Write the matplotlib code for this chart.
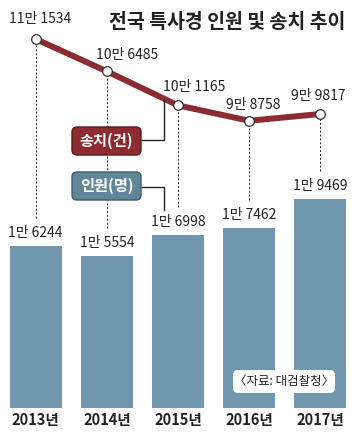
import matplotlib
matplotlib.use("Agg")
import matplotlib.pyplot as plt
from matplotlib.patches import FancyBboxPatch
from matplotlib.lines import Line2D
from matplotlib.transforms import IdentityTransform

# ---- data ----
years = ["2013년", "2014년", "2015년", "2016년", "2017년"]
personnel = [16244, 15554, 16998, 17462, 19469]          # 인원(명)
personnel_labels = ["1만 6244", "1만 5554", "1만 6998", "1만 7462", "1만 9469"]
referrals = [111534, 106485, 101165, 98758, 99817]       # 송치(건)
referral_labels = ["11만 1534", "10만 6485", "10만 1165", "9만 8758", "9만 9817"]
title = "전국 특사경 인원 및 송치 추이"
source = "〈자료: 대검찰청〉"
legend_referral = "송치(건)"
legend_personnel = "인원(명)"

# ---- style ----
W, H, DPI = 356, 434, 100
NUM_FONT = ["Noto Sans CJK KR", "DejaVu Sans"]
KR_FONT = ["Noto Sans CJK KR", "DejaVu Sans"]
BAR_C = "#6F98AE"
LINE_C = "#8B2C33"
RED_BOX = "#8E2B30"
BLUE_BOX = "#5F8799"

fig = plt.figure(figsize=(W / DPI, H / DPI), dpi=DPI)
fig.patch.set_facecolor("white")

def D(x, y):
    """pixel (from top-left) -> display coords"""
    return (x, H - y)

ax = fig.add_axes([0, 26 / H, 1, 408 / H])
ax.set_xlim(-0.5, 4.5)
ax.set_ylim(5114, 33136)
ax.axis("off")
xs = list(range(len(years)))
ax.bar(xs, personnel, width=0.73, color=BAR_C, zorder=2)

for x, v, lab in zip(xs, personnel, personnel_labels):
    ax.annotate(lab, (x, v), xytext=(0, 9.4), textcoords="offset points",
                ha="center", va="center", fontsize=10, family=NUM_FONT,
                color="#222222", zorder=5)
    ax.text(x, -0.03, years[x], transform=ax.get_xaxis_transform(),
            ha="center", va="center", fontsize=10.5, fontweight="bold",
            family=NUM_FONT, color="#222222", clip_on=False)

ax2 = ax.twinx()
ax2.set_ylim(53878, 117628)
ax2.axis("off")
ax2.plot(xs, referrals, color=LINE_C, lw=4.3, zorder=3, solid_capstyle="butt")
ax2.scatter(xs, referrals, s=48, facecolor="white", edgecolor="#333333",
            linewidths=0.9, zorder=4)

label_off_px = [(4, 20), (20, 16), (16, 18), (4, 16), (-2, 18)]
for x, v, lab, (dx, dy) in zip(xs, referrals, referral_labels, label_off_px):
    ax2.annotate(lab, (x, v), xytext=(dx * 0.72, dy * 0.72),
                 textcoords="offset points", ha="center", va="center",
                 fontsize=10, family=NUM_FONT, color="#222222")

# dashed guide lines from each point down to above bar label
fig.canvas.draw()
inv = ax.transData.inverted()
for x, v, b in zip(xs, referrals, personnel):
    top_disp = ax2.transData.transform((x, v))[1]
    bot_disp = ax.transData.transform((x, b))[1] + 28
    yt = inv.transform((0, top_disp))[1]
    yb = inv.transform((0, bot_disp))[1]
    ax.plot([x, x], [yb, yt], color="#222222", lw=0.7,
            linestyle=(0, (2, 2)), zorder=1)

# legend boxes
def legend_box(y_top, color, edge, text):
    p = FancyBboxPatch(D(72, y_top + 28), 69, 28,
                       boxstyle="round,pad=0,rounding_size=5",
                       facecolor=color, edgecolor=edge, lw=1.0,
                       transform=IdentityTransform(), zorder=5)
    fig.add_artist(p)
    cx, cy = D(106.5, y_top + 14)
    fig.text(cx / W, cy / H, text, ha="center", va="center", color="white",
             fontsize=11, fontweight="bold", family=KR_FONT, zorder=6)

legend_box(127, RED_BOX, "#5E1A1E", legend_referral)
legend_box(172, BLUE_BOX, "#3E5F6E", legend_personnel)

def poly(points):
    xs_, ys_ = zip(*[D(px, py) for px, py in points])
    fig.add_artist(Line2D(xs_, ys_, color="#222222", lw=1.0,
                          transform=IdentityTransform(), zorder=5))

poly([(142, 140), (164, 140), (164, 100)])
poly([(142, 187), (164, 187), (164, 210)])

# title
fig.text(345 / W, 1 - 22 / H, title, ha="right", va="center", fontsize=14,
         fontweight="bold", family=KR_FONT, color="#222222")

# source box
sp = FancyBboxPatch(D(233, 393), 102, 23, boxstyle="round,pad=0,rounding_size=5",
                    facecolor="white", edgecolor="none",
                    transform=IdentityTransform(), zorder=5)
fig.add_artist(sp)
fig.text(284 / W, 1 - 381.5 / H, source, ha="center", va="center", fontsize=9,
         family=KR_FONT, color="#222222", zorder=6)

fig.savefig("out.png", dpi=DPI)
